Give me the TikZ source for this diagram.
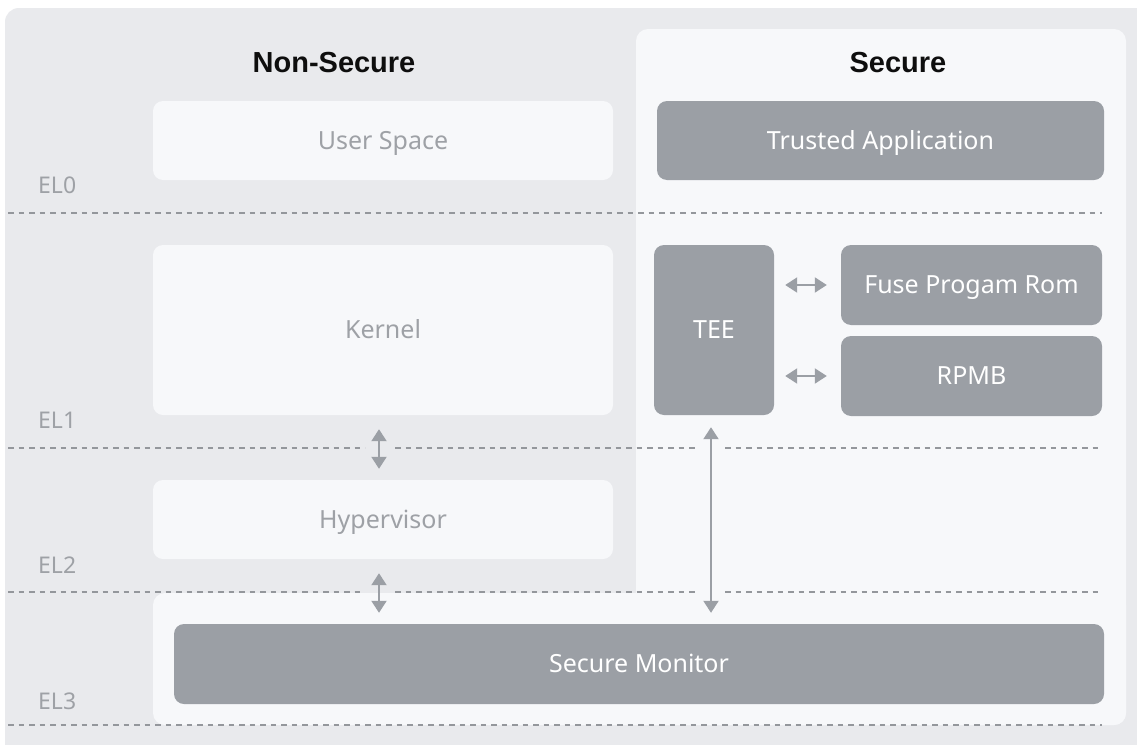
\documentclass[tikz,border=0pt]{standalone}
\usepackage{fontspec}
\setmainfont{Noto Sans}
\newfontfamily\headfont{Liberation Sans}
\usetikzlibrary{arrows.meta,calc}

\definecolor{outerbg}{HTML}{E9EAED}
\definecolor{lightbg}{HTML}{F7F8FA}
\definecolor{darkbox}{HTML}{9B9FA5}
\definecolor{softtext}{HTML}{9EA1A6}
\definecolor{linegray}{HTML}{94979C}
\definecolor{headtext}{HTML}{0E0E0E}

\begin{document}
\begin{tikzpicture}[
  x=1pt, y=-1pt,
  box/.style={rounded corners=10pt, inner sep=0pt, align=center,
              text height=17.85pt, text depth=0pt,
              font=\fontsize{25}{30}\selectfont},
  lightbox/.style={box, fill=lightbg, text=softtext},
  darkbox/.style={box, fill=darkbox, text=white},
  heading/.style={font=\headfont\bfseries\fontsize{29}{34}\selectfont, text=headtext,
                  text height=20.8pt, text depth=0pt, inner sep=0pt},
  ellabel/.style={font=\fontsize{23}{28}\selectfont, text=softtext, anchor=west, inner sep=0pt,
                  text height=16.4pt, text depth=0pt},
  levelline/.style={draw=linegray, line width=2.8pt, dash pattern=on 5.5pt off 5pt},
  twoway/.style={draw=darkbox, line width=2pt,
                 {Triangle[width=15pt,length=12pt]}-{Triangle[width=15pt,length=12pt]}},
]
\useasboundingbox (0,0) rectangle (1137,744);
\fill[white] (0,0) rectangle (1137,744);

% outer panel, only its upper-left corner falls inside the page
\begin{scope}
  \clip (0,0) rectangle (1137,744);
  \fill[outerbg, rounded corners=14pt] (5,8) rectangle (1180,790);
\end{scope}

% secure world region (upper column plus the EL3 strip)
\fill[lightbg, rounded corners=12pt] (636,29) rectangle (1126,725);
\fill[lightbg, rounded corners=12pt] (153,593) rectangle (1126,725);

% column headings
\node[heading] (hns) at (334,62) {Non-Secure};
\node[heading] (hs)  at (898,62) {Secure};

% exception level separators
\draw[levelline] (8,213) -- (1102,213);
\draw[levelline] (8,448) -- (365,448);
\draw[levelline] (395,448) -- (697,448);
\draw[levelline] (725,448) -- (1102,448);
\draw[levelline] (8,592) -- (364,592);
\draw[levelline] (395,592) -- (697,592);
\draw[levelline] (725,592) -- (1102,592);
\draw[levelline] (8,725) -- (1102,725);

% exception level labels
\node[ellabel] (el0) at (38,185) {EL0};
\node[ellabel] (el1) at (38,420) {EL1};
\node[ellabel] (el2) at (38,565) {EL2};
\node[ellabel] (el3) at (38,701) {EL3};

% components
\node[lightbox, minimum width=460pt, minimum height=79pt] (user) at (383,140.5) {User Space};
\node[darkbox, minimum width=447pt, minimum height=79pt] (ta) at (880.5,140.5) {Trusted Application};
\node[lightbox, minimum width=460pt, minimum height=170pt] (kernel) at (383,330) {Kernel};
\node[darkbox, minimum width=120pt, minimum height=170pt] (tee) at (714,330) {TEE};
\node[darkbox, minimum width=261pt, minimum height=80pt] (fuse) at (971.5,285) {Fuse Progam Rom};
\node[darkbox, minimum width=261pt, minimum height=80pt] (rpmb) at (971.5,376) {RPMB};
\node[lightbox, minimum width=460pt, minimum height=79pt] (hyp) at (383,519.5) {Hypervisor};
\node[darkbox, minimum width=930pt, minimum height=80pt] (sm) at (639,664) {Secure Monitor};

% connections
\draw[twoway] ($(kernel.south)+(-4,14)$) -- ($(hyp.north)+(-4,-11)$);
\draw[twoway] ($(hyp.south)+(-4,14)$) -- ($(sm.north -| hyp.south)+(-4,-11)$);
\draw[twoway] ($(tee.south)+(-3,12)$) -- ($(sm.north -| tee.south)+(-3,-11)$);
\draw[twoway] ($(tee.east |- fuse.west)+(11,0)$) -- ($(fuse.west)+(-14,0)$);
\draw[twoway] ($(tee.east |- rpmb.west)+(11,0)$) -- ($(rpmb.west)+(-14,0)$);
\end{tikzpicture}
\end{document}
